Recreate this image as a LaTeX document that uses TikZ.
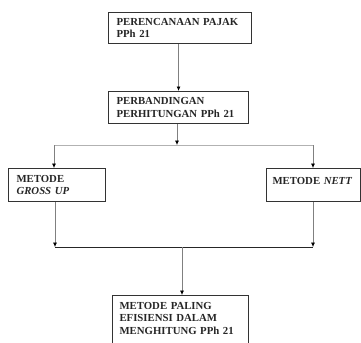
\documentclass[tikz,border=0pt]{standalone}
\usepackage{fontspec}
\setmainfont{Liberation Serif}
\usetikzlibrary{calc,arrows.meta}

\tikzset{
	kotak/.style={draw=black!80, line width=1.1pt, anchor=north west, align=left,
		inner xsep=8bp, inner ysep=4bp, text=black!85,
		font=\fontsize{10.8}{12.6}\selectfont\bfseries},
	garis/.style={draw=black!50, line width=0.7pt},
	panah/.style={garis, -{Latex[length=4.5bp,width=4bp,black]}}
}

\begin{document}
\begin{tikzpicture}[x=1bp,y=-1bp]
	\clip (0,0) rectangle (361,343);
	% kotak
	\node[kotak, text width=127bp, minimum height=31bp] (b1) at (108,12) {PERENCANAAN PAJAK\\PPh 21};
	\node[kotak, text width=124bp, minimum height=32bp] (b2) at (108,91) {PERBANDINGAN\\PERHITUNGAN PPh 21};
	\node[kotak, text width=81bp, minimum height=33bp] (b3) at (8,168) {METODE\\\textit{GROSS UP}};
	\node[kotak, inner xsep=6bp, text width=82bp, minimum height=33bp, text depth=9bp] (b4) at (266,168) {METODE \textit{NETT}};
	\node[kotak, inner xsep=7bp, text width=122bp, inner ysep=6.5bp, text depth=40bp] (b5) at (112,295) {METODE PALING\\EFISIENSI DALAM\\MENGHITUNG PPh 21};
	% titik cabang
	\coordinate (c1) at (177,145);
	\coordinate (kiri1) at (54,145);
	\coordinate (kanan1) at (313,145);
	\coordinate (kiri2) at (55,247);
	\coordinate (kanan2) at (313,247);
	\coordinate (c2) at (182,247);
	% panah
	\draw[panah] (b2.north |- b1.south) -- (b2.north);
	\draw[panah] (c1 |- b2.south) -- (c1);
	\draw[draw=black!30, line width=0.8pt] (kiri1) -- (kanan1);
	\draw[panah] (kiri1) -- (kiri1 |- b3.north);
	\draw[panah] (kanan1) -- (kanan1 |- b4.north);
	\draw[panah] (kiri2 |- b3.south) -- (kiri2);
	\draw[panah] (kanan2 |- b4.south) -- (kanan2);
	\draw[black!85, line width=1pt] (kiri2) -- (kanan2);
	\draw[panah] (c2) -- (c2 |- b5.north);
\end{tikzpicture}
\end{document}
